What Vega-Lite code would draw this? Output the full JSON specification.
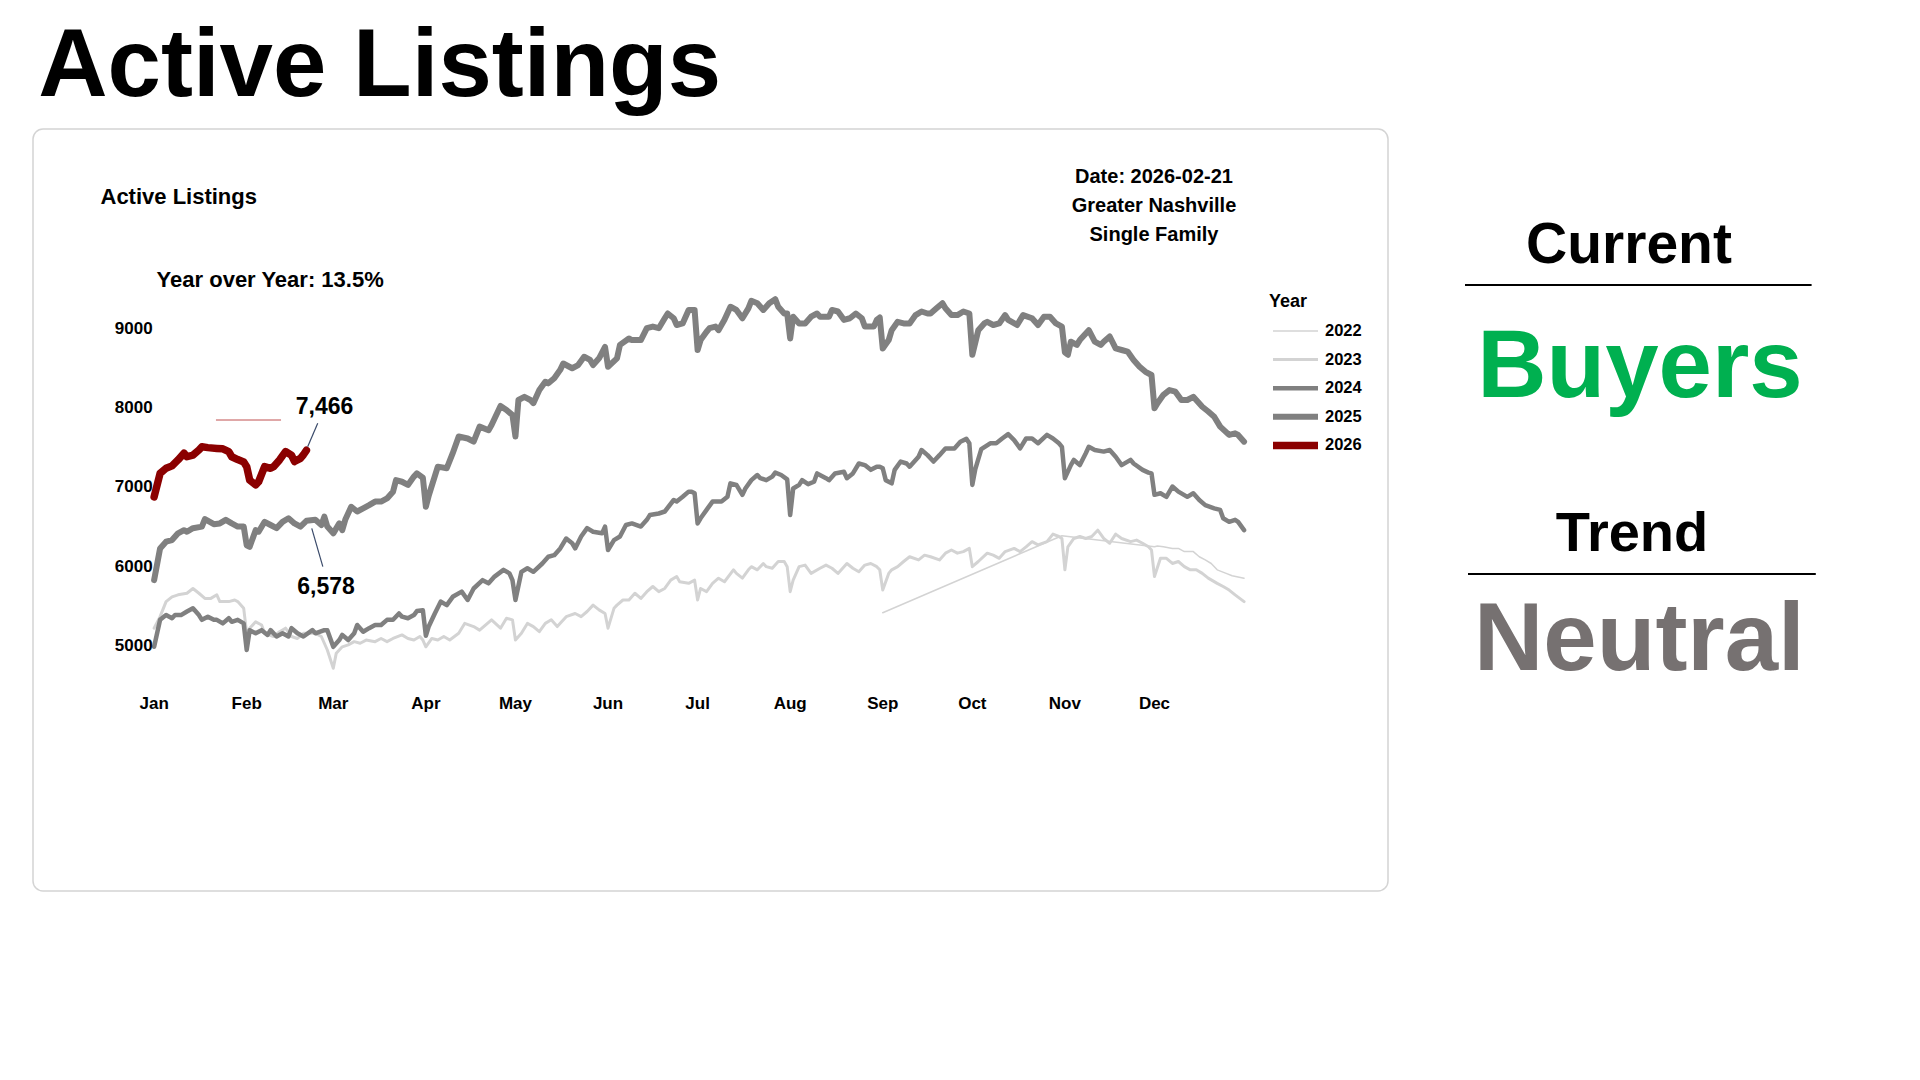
{
  "$schema": "https://vega.github.io/schema/vega-lite/v6.json",
  "background": "white",
  "padding": {"left": 32, "top": 19, "right": 0, "bottom": 0},
  "title": {"text": "Active Listings", "font": "Liberation Sans", "fontSize": 96, "fontWeight": "bold", "color": "#000000", "anchor": "start", "offset": 12, "dx": 6},
  "spacing": 50,
  "datasets": {
    "listings": [
      {"year":"2022","date":"2022-09-01","value":5420},{"year":"2022","date":"2022-10-31","value":6390},{"year":"2022","date":"2022-12-01","value":6250},{"year":"2022","date":"2022-12-02","value":6260},{"year":"2022","date":"2022-12-04","value":6250},{"year":"2022","date":"2022-12-07","value":6230},{"year":"2022","date":"2022-12-09","value":6230},{"year":"2022","date":"2022-12-11","value":6190},{"year":"2022","date":"2022-12-14","value":6190},{"year":"2022","date":"2022-12-16","value":6125},{"year":"2022","date":"2022-12-18","value":6085},{"year":"2022","date":"2022-12-20","value":6040},{"year":"2022","date":"2022-12-22","value":5960},{"year":"2022","date":"2022-12-25","value":5915},{"year":"2022","date":"2022-12-27","value":5885},{"year":"2022","date":"2022-12-31","value":5855},

      {"year":"2023","date":"2023-01-01","value":5225},{"year":"2023","date":"2023-01-03","value":5370},{"year":"2023","date":"2023-01-05","value":5560},{"year":"2023","date":"2023-01-07","value":5620},{"year":"2023","date":"2023-01-09","value":5645},{"year":"2023","date":"2023-01-12","value":5665},{"year":"2023","date":"2023-01-14","value":5725},{"year":"2023","date":"2023-01-16","value":5665},{"year":"2023","date":"2023-01-18","value":5600},{"year":"2023","date":"2023-01-20","value":5600},{"year":"2023","date":"2023-01-22","value":5645},{"year":"2023","date":"2023-01-23","value":5560},{"year":"2023","date":"2023-01-26","value":5560},{"year":"2023","date":"2023-01-28","value":5580},{"year":"2023","date":"2023-01-29","value":5560},{"year":"2023","date":"2023-01-31","value":5475},
      {"year":"2023","date":"2023-02-01","value":5160},{"year":"2023","date":"2023-02-02","value":5225},{"year":"2023","date":"2023-02-04","value":5305},{"year":"2023","date":"2023-02-06","value":5265},{"year":"2023","date":"2023-02-07","value":5160},{"year":"2023","date":"2023-02-10","value":5120},{"year":"2023","date":"2023-02-12","value":5180},{"year":"2023","date":"2023-02-14","value":5225},{"year":"2023","date":"2023-02-16","value":5120},{"year":"2023","date":"2023-02-18","value":5095},{"year":"2023","date":"2023-02-20","value":5160},{"year":"2023","date":"2023-02-22","value":5160},{"year":"2023","date":"2023-02-24","value":5160},{"year":"2023","date":"2023-02-26","value":5120},{"year":"2023","date":"2023-02-28","value":4950},
      {"year":"2023","date":"2023-03-01","value":4720},{"year":"2023","date":"2023-03-02","value":4910},{"year":"2023","date":"2023-03-04","value":4990},{"year":"2023","date":"2023-03-06","value":5015},{"year":"2023","date":"2023-03-08","value":5055},{"year":"2023","date":"2023-03-10","value":5035},{"year":"2023","date":"2023-03-12","value":5075},{"year":"2023","date":"2023-03-15","value":5055},{"year":"2023","date":"2023-03-17","value":5095},{"year":"2023","date":"2023-03-19","value":5055},{"year":"2023","date":"2023-03-21","value":5095},{"year":"2023","date":"2023-03-24","value":5140},{"year":"2023","date":"2023-03-26","value":5095},{"year":"2023","date":"2023-03-28","value":5075},{"year":"2023","date":"2023-03-30","value":5120},{"year":"2023","date":"2023-03-31","value":5075},
      {"year":"2023","date":"2023-04-01","value":4990},{"year":"2023","date":"2023-04-03","value":5095},{"year":"2023","date":"2023-04-05","value":5075},{"year":"2023","date":"2023-04-07","value":5120},{"year":"2023","date":"2023-04-09","value":5075},{"year":"2023","date":"2023-04-12","value":5160},{"year":"2023","date":"2023-04-14","value":5285},{"year":"2023","date":"2023-04-17","value":5245},{"year":"2023","date":"2023-04-19","value":5200},{"year":"2023","date":"2023-04-23","value":5330},{"year":"2023","date":"2023-04-26","value":5225},{"year":"2023","date":"2023-04-28","value":5350},{"year":"2023","date":"2023-04-30","value":5330},
      {"year":"2023","date":"2023-05-01","value":5075},{"year":"2023","date":"2023-05-03","value":5160},{"year":"2023","date":"2023-05-05","value":5285},{"year":"2023","date":"2023-05-07","value":5245},{"year":"2023","date":"2023-05-09","value":5180},{"year":"2023","date":"2023-05-11","value":5285},{"year":"2023","date":"2023-05-13","value":5330},{"year":"2023","date":"2023-05-15","value":5245},{"year":"2023","date":"2023-05-18","value":5370},{"year":"2023","date":"2023-05-21","value":5410},{"year":"2023","date":"2023-05-23","value":5370},{"year":"2023","date":"2023-05-25","value":5435},{"year":"2023","date":"2023-05-27","value":5515},{"year":"2023","date":"2023-05-29","value":5455},{"year":"2023","date":"2023-05-31","value":5410},
      {"year":"2023","date":"2023-06-01","value":5225},{"year":"2023","date":"2023-06-03","value":5475},{"year":"2023","date":"2023-06-04","value":5515},{"year":"2023","date":"2023-06-06","value":5580},{"year":"2023","date":"2023-06-08","value":5580},{"year":"2023","date":"2023-06-10","value":5665},{"year":"2023","date":"2023-06-12","value":5600},{"year":"2023","date":"2023-06-14","value":5685},{"year":"2023","date":"2023-06-16","value":5750},{"year":"2023","date":"2023-06-18","value":5685},{"year":"2023","date":"2023-06-20","value":5725},{"year":"2023","date":"2023-06-22","value":5830},{"year":"2023","date":"2023-06-24","value":5875},{"year":"2023","date":"2023-06-25","value":5810},{"year":"2023","date":"2023-06-28","value":5790},{"year":"2023","date":"2023-06-30","value":5830},
      {"year":"2023","date":"2023-07-01","value":5580},{"year":"2023","date":"2023-07-02","value":5725},{"year":"2023","date":"2023-07-04","value":5685},{"year":"2023","date":"2023-07-06","value":5790},{"year":"2023","date":"2023-07-08","value":5855},{"year":"2023","date":"2023-07-10","value":5810},{"year":"2023","date":"2023-07-13","value":5960},{"year":"2023","date":"2023-07-14","value":5915},{"year":"2023","date":"2023-07-16","value":5855},{"year":"2023","date":"2023-07-18","value":5960},{"year":"2023","date":"2023-07-19","value":6000},{"year":"2023","date":"2023-07-21","value":5960},{"year":"2023","date":"2023-07-23","value":6040},{"year":"2023","date":"2023-07-24","value":6000},{"year":"2023","date":"2023-07-26","value":5980},{"year":"2023","date":"2023-07-28","value":6065},{"year":"2023","date":"2023-07-30","value":6065},{"year":"2023","date":"2023-07-31","value":6000},
      {"year":"2023","date":"2023-08-01","value":5685},{"year":"2023","date":"2023-08-02","value":5830},{"year":"2023","date":"2023-08-04","value":6000},{"year":"2023","date":"2023-08-06","value":6020},{"year":"2023","date":"2023-08-08","value":5915},{"year":"2023","date":"2023-08-11","value":5980},{"year":"2023","date":"2023-08-13","value":6020},{"year":"2023","date":"2023-08-15","value":5980},{"year":"2023","date":"2023-08-17","value":5915},{"year":"2023","date":"2023-08-20","value":6040},{"year":"2023","date":"2023-08-22","value":5980},{"year":"2023","date":"2023-08-24","value":5935},{"year":"2023","date":"2023-08-26","value":6020},{"year":"2023","date":"2023-08-28","value":6040},{"year":"2023","date":"2023-08-30","value":6000},{"year":"2023","date":"2023-08-31","value":5960},
      {"year":"2023","date":"2023-09-01","value":5705},{"year":"2023","date":"2023-09-03","value":5915},{"year":"2023","date":"2023-09-04","value":5960},{"year":"2023","date":"2023-09-06","value":6000},{"year":"2023","date":"2023-09-08","value":6065},{"year":"2023","date":"2023-09-10","value":6125},{"year":"2023","date":"2023-09-13","value":6085},{"year":"2023","date":"2023-09-15","value":6145},{"year":"2023","date":"2023-09-17","value":6125},{"year":"2023","date":"2023-09-20","value":6085},{"year":"2023","date":"2023-09-22","value":6170},{"year":"2023","date":"2023-09-24","value":6210},{"year":"2023","date":"2023-09-26","value":6170},{"year":"2023","date":"2023-09-28","value":6190},{"year":"2023","date":"2023-09-30","value":6230},
      {"year":"2023","date":"2023-10-01","value":6000},{"year":"2023","date":"2023-10-03","value":6065},{"year":"2023","date":"2023-10-06","value":6170},{"year":"2023","date":"2023-10-08","value":6145},{"year":"2023","date":"2023-10-10","value":6105},{"year":"2023","date":"2023-10-12","value":6190},{"year":"2023","date":"2023-10-15","value":6230},{"year":"2023","date":"2023-10-17","value":6190},{"year":"2023","date":"2023-10-19","value":6250},{"year":"2023","date":"2023-10-21","value":6315},{"year":"2023","date":"2023-10-23","value":6275},{"year":"2023","date":"2023-10-26","value":6315},{"year":"2023","date":"2023-10-28","value":6410},{"year":"2023","date":"2023-10-30","value":6380},{"year":"2023","date":"2023-10-31","value":6355},
      {"year":"2023","date":"2023-11-01","value":5960},{"year":"2023","date":"2023-11-02","value":6250},{"year":"2023","date":"2023-11-04","value":6355},{"year":"2023","date":"2023-11-06","value":6380},{"year":"2023","date":"2023-11-08","value":6355},{"year":"2023","date":"2023-11-10","value":6380},{"year":"2023","date":"2023-11-12","value":6460},{"year":"2023","date":"2023-11-14","value":6355},{"year":"2023","date":"2023-11-16","value":6295},{"year":"2023","date":"2023-11-18","value":6410},{"year":"2023","date":"2023-11-20","value":6355},{"year":"2023","date":"2023-11-23","value":6315},{"year":"2023","date":"2023-11-25","value":6335},{"year":"2023","date":"2023-11-27","value":6295},{"year":"2023","date":"2023-11-29","value":6250},{"year":"2023","date":"2023-11-30","value":6210},
      {"year":"2023","date":"2023-12-01","value":5875},{"year":"2023","date":"2023-12-03","value":6105},{"year":"2023","date":"2023-12-05","value":6105},{"year":"2023","date":"2023-12-07","value":6040},{"year":"2023","date":"2023-12-09","value":6065},{"year":"2023","date":"2023-12-11","value":6000},{"year":"2023","date":"2023-12-13","value":5960},{"year":"2023","date":"2023-12-15","value":5960},{"year":"2023","date":"2023-12-17","value":5915},{"year":"2023","date":"2023-12-19","value":5855},{"year":"2023","date":"2023-12-22","value":5790},{"year":"2023","date":"2023-12-24","value":5750},{"year":"2023","date":"2023-12-26","value":5705},{"year":"2023","date":"2023-12-28","value":5645},{"year":"2023","date":"2023-12-31","value":5560},

      {"year":"2024","date":"2024-01-01","value":4990},{"year":"2024","date":"2024-01-03","value":5330},{"year":"2024","date":"2024-01-05","value":5390},{"year":"2024","date":"2024-01-07","value":5350},{"year":"2024","date":"2024-01-08","value":5390},{"year":"2024","date":"2024-01-10","value":5390},{"year":"2024","date":"2024-01-12","value":5435},{"year":"2024","date":"2024-01-14","value":5475},{"year":"2024","date":"2024-01-16","value":5390},{"year":"2024","date":"2024-01-17","value":5330},{"year":"2024","date":"2024-01-19","value":5370},{"year":"2024","date":"2024-01-21","value":5330},{"year":"2024","date":"2024-01-22","value":5330},{"year":"2024","date":"2024-01-24","value":5285},{"year":"2024","date":"2024-01-26","value":5350},{"year":"2024","date":"2024-01-27","value":5305},{"year":"2024","date":"2024-01-29","value":5330},{"year":"2024","date":"2024-01-31","value":5285},
      {"year":"2024","date":"2024-02-01","value":4950},{"year":"2024","date":"2024-02-02","value":5200},{"year":"2024","date":"2024-02-04","value":5160},{"year":"2024","date":"2024-02-06","value":5200},{"year":"2024","date":"2024-02-08","value":5140},{"year":"2024","date":"2024-02-09","value":5200},{"year":"2024","date":"2024-02-11","value":5120},{"year":"2024","date":"2024-02-13","value":5160},{"year":"2024","date":"2024-02-15","value":5120},{"year":"2024","date":"2024-02-16","value":5225},{"year":"2024","date":"2024-02-18","value":5160},{"year":"2024","date":"2024-02-20","value":5120},{"year":"2024","date":"2024-02-23","value":5200},{"year":"2024","date":"2024-02-24","value":5160},{"year":"2024","date":"2024-02-27","value":5200},{"year":"2024","date":"2024-02-28","value":5200},
      {"year":"2024","date":"2024-03-01","value":4990},{"year":"2024","date":"2024-03-03","value":5075},{"year":"2024","date":"2024-03-04","value":5140},{"year":"2024","date":"2024-03-06","value":5075},{"year":"2024","date":"2024-03-08","value":5160},{"year":"2024","date":"2024-03-09","value":5265},{"year":"2024","date":"2024-03-11","value":5180},{"year":"2024","date":"2024-03-13","value":5225},{"year":"2024","date":"2024-03-15","value":5265},{"year":"2024","date":"2024-03-17","value":5265},{"year":"2024","date":"2024-03-19","value":5330},{"year":"2024","date":"2024-03-21","value":5330},{"year":"2024","date":"2024-03-23","value":5410},{"year":"2024","date":"2024-03-24","value":5370},{"year":"2024","date":"2024-03-26","value":5350},{"year":"2024","date":"2024-03-28","value":5390},{"year":"2024","date":"2024-03-29","value":5440},{"year":"2024","date":"2024-03-31","value":5450},
      {"year":"2024","date":"2024-04-01","value":5130},{"year":"2024","date":"2024-04-02","value":5250},{"year":"2024","date":"2024-04-04","value":5410},{"year":"2024","date":"2024-04-06","value":5560},{"year":"2024","date":"2024-04-08","value":5515},{"year":"2024","date":"2024-04-10","value":5620},{"year":"2024","date":"2024-04-13","value":5685},{"year":"2024","date":"2024-04-15","value":5580},{"year":"2024","date":"2024-04-17","value":5725},{"year":"2024","date":"2024-04-20","value":5830},{"year":"2024","date":"2024-04-22","value":5790},{"year":"2024","date":"2024-04-24","value":5875},{"year":"2024","date":"2024-04-27","value":5960},{"year":"2024","date":"2024-04-29","value":5915},{"year":"2024","date":"2024-04-30","value":5830},
      {"year":"2024","date":"2024-05-01","value":5580},{"year":"2024","date":"2024-05-03","value":5935},{"year":"2024","date":"2024-05-05","value":5980},{"year":"2024","date":"2024-05-07","value":5935},{"year":"2024","date":"2024-05-10","value":6040},{"year":"2024","date":"2024-05-12","value":6125},{"year":"2024","date":"2024-05-14","value":6145},{"year":"2024","date":"2024-05-16","value":6230},{"year":"2024","date":"2024-05-18","value":6355},{"year":"2024","date":"2024-05-20","value":6295},{"year":"2024","date":"2024-05-21","value":6230},{"year":"2024","date":"2024-05-23","value":6380},{"year":"2024","date":"2024-05-25","value":6485},{"year":"2024","date":"2024-05-27","value":6440},{"year":"2024","date":"2024-05-30","value":6420},{"year":"2024","date":"2024-05-31","value":6505},
      {"year":"2024","date":"2024-06-01","value":6210},{"year":"2024","date":"2024-06-03","value":6335},{"year":"2024","date":"2024-06-05","value":6380},{"year":"2024","date":"2024-06-07","value":6525},{"year":"2024","date":"2024-06-09","value":6545},{"year":"2024","date":"2024-06-12","value":6505},{"year":"2024","date":"2024-06-14","value":6590},{"year":"2024","date":"2024-06-15","value":6650},{"year":"2024","date":"2024-06-18","value":6670},{"year":"2024","date":"2024-06-20","value":6695},{"year":"2024","date":"2024-06-23","value":6840},{"year":"2024","date":"2024-06-24","value":6820},{"year":"2024","date":"2024-06-26","value":6880},{"year":"2024","date":"2024-06-28","value":6945},{"year":"2024","date":"2024-06-29","value":6945},{"year":"2024","date":"2024-06-30","value":6925},
      {"year":"2024","date":"2024-07-01","value":6545},{"year":"2024","date":"2024-07-02","value":6610},{"year":"2024","date":"2024-07-04","value":6715},{"year":"2024","date":"2024-07-06","value":6820},{"year":"2024","date":"2024-07-09","value":6820},{"year":"2024","date":"2024-07-11","value":6880},{"year":"2024","date":"2024-07-12","value":7050},{"year":"2024","date":"2024-07-14","value":7030},{"year":"2024","date":"2024-07-16","value":6905},{"year":"2024","date":"2024-07-17","value":6985},{"year":"2024","date":"2024-07-19","value":7090},{"year":"2024","date":"2024-07-21","value":7155},{"year":"2024","date":"2024-07-22","value":7115},{"year":"2024","date":"2024-07-24","value":7090},{"year":"2024","date":"2024-07-26","value":7135},{"year":"2024","date":"2024-07-27","value":7185},{"year":"2024","date":"2024-07-29","value":7155},{"year":"2024","date":"2024-07-31","value":7100},
      {"year":"2024","date":"2024-08-01","value":6650},{"year":"2024","date":"2024-08-02","value":6985},{"year":"2024","date":"2024-08-04","value":7030},{"year":"2024","date":"2024-08-05","value":7090},{"year":"2024","date":"2024-08-07","value":7040},{"year":"2024","date":"2024-08-09","value":7070},{"year":"2024","date":"2024-08-10","value":7175},{"year":"2024","date":"2024-08-13","value":7115},{"year":"2024","date":"2024-08-14","value":7090},{"year":"2024","date":"2024-08-16","value":7175},{"year":"2024","date":"2024-08-19","value":7195},{"year":"2024","date":"2024-08-20","value":7115},{"year":"2024","date":"2024-08-22","value":7175},{"year":"2024","date":"2024-08-24","value":7300},{"year":"2024","date":"2024-08-26","value":7280},{"year":"2024","date":"2024-08-28","value":7220},{"year":"2024","date":"2024-08-30","value":7260},{"year":"2024","date":"2024-08-31","value":7260},
      {"year":"2024","date":"2024-09-01","value":7240},{"year":"2024","date":"2024-09-02","value":7090},{"year":"2024","date":"2024-09-04","value":7050},{"year":"2024","date":"2024-09-05","value":7220},{"year":"2024","date":"2024-09-07","value":7325},{"year":"2024","date":"2024-09-09","value":7300},{"year":"2024","date":"2024-09-10","value":7260},{"year":"2024","date":"2024-09-13","value":7385},{"year":"2024","date":"2024-09-14","value":7470},{"year":"2024","date":"2024-09-16","value":7405},{"year":"2024","date":"2024-09-18","value":7325},{"year":"2024","date":"2024-09-20","value":7405},{"year":"2024","date":"2024-09-22","value":7490},{"year":"2024","date":"2024-09-24","value":7490},{"year":"2024","date":"2024-09-25","value":7490},{"year":"2024","date":"2024-09-27","value":7575},{"year":"2024","date":"2024-09-29","value":7610},{"year":"2024","date":"2024-09-30","value":7555},
      {"year":"2024","date":"2024-10-01","value":7030},{"year":"2024","date":"2024-10-02","value":7230},{"year":"2024","date":"2024-10-04","value":7480},{"year":"2024","date":"2024-10-07","value":7555},{"year":"2024","date":"2024-10-09","value":7555},{"year":"2024","date":"2024-10-11","value":7615},{"year":"2024","date":"2024-10-13","value":7670},{"year":"2024","date":"2024-10-15","value":7595},{"year":"2024","date":"2024-10-17","value":7490},{"year":"2024","date":"2024-10-19","value":7615},{"year":"2024","date":"2024-10-21","value":7615},{"year":"2024","date":"2024-10-23","value":7555},{"year":"2024","date":"2024-10-26","value":7660},{"year":"2024","date":"2024-10-28","value":7615},{"year":"2024","date":"2024-10-30","value":7555},{"year":"2024","date":"2024-10-31","value":7510},
      {"year":"2024","date":"2024-11-01","value":7115},{"year":"2024","date":"2024-11-03","value":7280},{"year":"2024","date":"2024-11-04","value":7345},{"year":"2024","date":"2024-11-06","value":7280},{"year":"2024","date":"2024-11-08","value":7430},{"year":"2024","date":"2024-11-09","value":7510},{"year":"2024","date":"2024-11-11","value":7470},{"year":"2024","date":"2024-11-14","value":7450},{"year":"2024","date":"2024-11-16","value":7470},{"year":"2024","date":"2024-11-18","value":7385},{"year":"2024","date":"2024-11-20","value":7280},{"year":"2024","date":"2024-11-23","value":7345},{"year":"2024","date":"2024-11-24","value":7300},{"year":"2024","date":"2024-11-27","value":7220},{"year":"2024","date":"2024-11-29","value":7185},{"year":"2024","date":"2024-11-30","value":7175},
      {"year":"2024","date":"2024-12-01","value":6905},{"year":"2024","date":"2024-12-03","value":6925},{"year":"2024","date":"2024-12-05","value":6880},{"year":"2024","date":"2024-12-07","value":7010},{"year":"2024","date":"2024-12-09","value":6945},{"year":"2024","date":"2024-12-12","value":6880},{"year":"2024","date":"2024-12-14","value":6925},{"year":"2024","date":"2024-12-16","value":6840},{"year":"2024","date":"2024-12-18","value":6775},{"year":"2024","date":"2024-12-21","value":6735},{"year":"2024","date":"2024-12-23","value":6715},{"year":"2024","date":"2024-12-24","value":6610},{"year":"2024","date":"2024-12-26","value":6565},{"year":"2024","date":"2024-12-28","value":6590},{"year":"2024","date":"2024-12-29","value":6565},{"year":"2024","date":"2024-12-31","value":6460},

      {"year":"2025","date":"2025-01-01","value":5830},{"year":"2025","date":"2025-01-03","value":6230},{"year":"2025","date":"2025-01-05","value":6315},{"year":"2025","date":"2025-01-07","value":6335},{"year":"2025","date":"2025-01-09","value":6420},{"year":"2025","date":"2025-01-11","value":6460},{"year":"2025","date":"2025-01-12","value":6440},{"year":"2025","date":"2025-01-14","value":6485},{"year":"2025","date":"2025-01-17","value":6505},{"year":"2025","date":"2025-01-18","value":6600},{"year":"2025","date":"2025-01-21","value":6535},{"year":"2025","date":"2025-01-23","value":6545},{"year":"2025","date":"2025-01-25","value":6590},{"year":"2025","date":"2025-01-27","value":6545},{"year":"2025","date":"2025-01-29","value":6505},{"year":"2025","date":"2025-01-31","value":6505},
      {"year":"2025","date":"2025-02-01","value":6270},{"year":"2025","date":"2025-02-02","value":6250},{"year":"2025","date":"2025-02-04","value":6460},{"year":"2025","date":"2025-02-05","value":6440},{"year":"2025","date":"2025-02-07","value":6565},{"year":"2025","date":"2025-02-09","value":6525},{"year":"2025","date":"2025-02-11","value":6485},{"year":"2025","date":"2025-02-13","value":6565},{"year":"2025","date":"2025-02-15","value":6610},{"year":"2025","date":"2025-02-17","value":6545},{"year":"2025","date":"2025-02-19","value":6505},{"year":"2025","date":"2025-02-21","value":6578},{"year":"2025","date":"2025-02-24","value":6590},{"year":"2025","date":"2025-02-26","value":6525},{"year":"2025","date":"2025-02-27","value":6630},{"year":"2025","date":"2025-02-28","value":6505},
      {"year":"2025","date":"2025-03-01","value":6420},{"year":"2025","date":"2025-03-03","value":6545},{"year":"2025","date":"2025-03-04","value":6460},{"year":"2025","date":"2025-03-05","value":6590},{"year":"2025","date":"2025-03-07","value":6755},{"year":"2025","date":"2025-03-09","value":6695},{"year":"2025","date":"2025-03-11","value":6735},{"year":"2025","date":"2025-03-13","value":6775},{"year":"2025","date":"2025-03-15","value":6820},{"year":"2025","date":"2025-03-17","value":6820},{"year":"2025","date":"2025-03-19","value":6860},{"year":"2025","date":"2025-03-21","value":6945},{"year":"2025","date":"2025-03-22","value":7090},{"year":"2025","date":"2025-03-24","value":7070},{"year":"2025","date":"2025-03-26","value":7030},{"year":"2025","date":"2025-03-28","value":7135},{"year":"2025","date":"2025-03-29","value":7175},{"year":"2025","date":"2025-03-31","value":7120},
      {"year":"2025","date":"2025-04-01","value":6756},{"year":"2025","date":"2025-04-02","value":6900},{"year":"2025","date":"2025-04-05","value":7260},{"year":"2025","date":"2025-04-08","value":7240},{"year":"2025","date":"2025-04-10","value":7430},{"year":"2025","date":"2025-04-12","value":7640},{"year":"2025","date":"2025-04-15","value":7615},{"year":"2025","date":"2025-04-17","value":7575},{"year":"2025","date":"2025-04-19","value":7765},{"year":"2025","date":"2025-04-22","value":7720},{"year":"2025","date":"2025-04-23","value":7785},{"year":"2025","date":"2025-04-26","value":8025},{"year":"2025","date":"2025-04-28","value":7975},{"year":"2025","date":"2025-04-30","value":7910},
      {"year":"2025","date":"2025-05-01","value":7640},{"year":"2025","date":"2025-05-02","value":8100},{"year":"2025","date":"2025-05-04","value":8140},{"year":"2025","date":"2025-05-06","value":8100},{"year":"2025","date":"2025-05-07","value":8060},{"year":"2025","date":"2025-05-09","value":8225},{"year":"2025","date":"2025-05-11","value":8330},{"year":"2025","date":"2025-05-12","value":8310},{"year":"2025","date":"2025-05-14","value":8375},{"year":"2025","date":"2025-05-16","value":8480},{"year":"2025","date":"2025-05-17","value":8560},{"year":"2025","date":"2025-05-20","value":8500},{"year":"2025","date":"2025-05-22","value":8540},{"year":"2025","date":"2025-05-24","value":8645},{"year":"2025","date":"2025-05-26","value":8605},{"year":"2025","date":"2025-05-27","value":8540},{"year":"2025","date":"2025-05-29","value":8625},{"year":"2025","date":"2025-05-31","value":8770},
      {"year":"2025","date":"2025-06-01","value":8520},{"year":"2025","date":"2025-06-04","value":8625},{"year":"2025","date":"2025-06-05","value":8795},{"year":"2025","date":"2025-06-08","value":8875},{"year":"2025","date":"2025-06-09","value":8855},{"year":"2025","date":"2025-06-12","value":8855},{"year":"2025","date":"2025-06-14","value":9005},{"year":"2025","date":"2025-06-16","value":9025},{"year":"2025","date":"2025-06-18","value":9005},{"year":"2025","date":"2025-06-20","value":9130},{"year":"2025","date":"2025-06-21","value":9190},{"year":"2025","date":"2025-06-23","value":9130},{"year":"2025","date":"2025-06-24","value":9045},{"year":"2025","date":"2025-06-26","value":9065},{"year":"2025","date":"2025-06-28","value":9235},{"year":"2025","date":"2025-06-30","value":9235},
      {"year":"2025","date":"2025-07-01","value":8730},{"year":"2025","date":"2025-07-02","value":8855},{"year":"2025","date":"2025-07-04","value":8960},{"year":"2025","date":"2025-07-05","value":9005},{"year":"2025","date":"2025-07-07","value":9025},{"year":"2025","date":"2025-07-08","value":8980},{"year":"2025","date":"2025-07-10","value":9110},{"year":"2025","date":"2025-07-12","value":9275},{"year":"2025","date":"2025-07-14","value":9235},{"year":"2025","date":"2025-07-16","value":9130},{"year":"2025","date":"2025-07-18","value":9255},{"year":"2025","date":"2025-07-19","value":9350},{"year":"2025","date":"2025-07-21","value":9320},{"year":"2025","date":"2025-07-23","value":9235},{"year":"2025","date":"2025-07-25","value":9320},{"year":"2025","date":"2025-07-27","value":9370},{"year":"2025","date":"2025-07-28","value":9275},{"year":"2025","date":"2025-07-30","value":9190},{"year":"2025","date":"2025-07-31","value":9190},
      {"year":"2025","date":"2025-08-01","value":8875},{"year":"2025","date":"2025-08-02","value":9150},{"year":"2025","date":"2025-08-04","value":9065},{"year":"2025","date":"2025-08-06","value":9065},{"year":"2025","date":"2025-08-08","value":9150},{"year":"2025","date":"2025-08-10","value":9190},{"year":"2025","date":"2025-08-11","value":9150},{"year":"2025","date":"2025-08-14","value":9150},{"year":"2025","date":"2025-08-15","value":9235},{"year":"2025","date":"2025-08-17","value":9215},{"year":"2025","date":"2025-08-19","value":9110},{"year":"2025","date":"2025-08-21","value":9130},{"year":"2025","date":"2025-08-23","value":9190},{"year":"2025","date":"2025-08-25","value":9130},{"year":"2025","date":"2025-08-26","value":9025},{"year":"2025","date":"2025-08-29","value":9025},{"year":"2025","date":"2025-08-30","value":9110},{"year":"2025","date":"2025-08-31","value":9140},
      {"year":"2025","date":"2025-09-01","value":8750},{"year":"2025","date":"2025-09-03","value":8855},{"year":"2025","date":"2025-09-04","value":8980},{"year":"2025","date":"2025-09-06","value":9085},{"year":"2025","date":"2025-09-08","value":9065},{"year":"2025","date":"2025-09-10","value":9065},{"year":"2025","date":"2025-09-12","value":9170},{"year":"2025","date":"2025-09-14","value":9215},{"year":"2025","date":"2025-09-16","value":9190},{"year":"2025","date":"2025-09-17","value":9190},{"year":"2025","date":"2025-09-19","value":9255},{"year":"2025","date":"2025-09-21","value":9320},{"year":"2025","date":"2025-09-22","value":9255},{"year":"2025","date":"2025-09-24","value":9170},{"year":"2025","date":"2025-09-26","value":9170},{"year":"2025","date":"2025-09-28","value":9215},{"year":"2025","date":"2025-09-30","value":9190},
      {"year":"2025","date":"2025-10-01","value":8670},{"year":"2025","date":"2025-10-03","value":8980},{"year":"2025","date":"2025-10-05","value":9065},{"year":"2025","date":"2025-10-06","value":9085},{"year":"2025","date":"2025-10-08","value":9045},{"year":"2025","date":"2025-10-10","value":9065},{"year":"2025","date":"2025-10-12","value":9170},{"year":"2025","date":"2025-10-13","value":9110},{"year":"2025","date":"2025-10-16","value":9045},{"year":"2025","date":"2025-10-18","value":9170},{"year":"2025","date":"2025-10-21","value":9130},{"year":"2025","date":"2025-10-23","value":9045},{"year":"2025","date":"2025-10-25","value":9150},{"year":"2025","date":"2025-10-27","value":9150},{"year":"2025","date":"2025-10-29","value":9065},{"year":"2025","date":"2025-10-31","value":9025},
      {"year":"2025","date":"2025-11-01","value":8700},{"year":"2025","date":"2025-11-02","value":8670},{"year":"2025","date":"2025-11-03","value":8835},{"year":"2025","date":"2025-11-05","value":8795},{"year":"2025","date":"2025-11-06","value":8855},{"year":"2025","date":"2025-11-09","value":8980},{"year":"2025","date":"2025-11-11","value":8835},{"year":"2025","date":"2025-11-13","value":8795},{"year":"2025","date":"2025-11-14","value":8835},{"year":"2025","date":"2025-11-16","value":8900},{"year":"2025","date":"2025-11-18","value":8750},{"year":"2025","date":"2025-11-20","value":8730},{"year":"2025","date":"2025-11-22","value":8710},{"year":"2025","date":"2025-11-24","value":8605},{"year":"2025","date":"2025-11-26","value":8520},{"year":"2025","date":"2025-11-28","value":8455},{"year":"2025","date":"2025-11-30","value":8415},
      {"year":"2025","date":"2025-12-01","value":7995},{"year":"2025","date":"2025-12-02","value":8060},{"year":"2025","date":"2025-12-04","value":8165},{"year":"2025","date":"2025-12-06","value":8225},{"year":"2025","date":"2025-12-08","value":8205},{"year":"2025","date":"2025-12-10","value":8100},{"year":"2025","date":"2025-12-12","value":8100},{"year":"2025","date":"2025-12-14","value":8140},{"year":"2025","date":"2025-12-17","value":8015},{"year":"2025","date":"2025-12-19","value":7955},{"year":"2025","date":"2025-12-21","value":7890},{"year":"2025","date":"2025-12-23","value":7765},{"year":"2025","date":"2025-12-26","value":7660},{"year":"2025","date":"2025-12-28","value":7680},{"year":"2025","date":"2025-12-29","value":7660},{"year":"2025","date":"2025-12-31","value":7575},

      {"year":"2026","date":"2026-01-01","value":6880},{"year":"2026","date":"2026-01-03","value":7175},{"year":"2026","date":"2026-01-05","value":7240},{"year":"2026","date":"2026-01-07","value":7270},{"year":"2026","date":"2026-01-09","value":7345},{"year":"2026","date":"2026-01-11","value":7430},{"year":"2026","date":"2026-01-12","value":7385},{"year":"2026","date":"2026-01-14","value":7405},{"year":"2026","date":"2026-01-16","value":7470},{"year":"2026","date":"2026-01-17","value":7510},{"year":"2026","date":"2026-01-19","value":7500},{"year":"2026","date":"2026-01-22","value":7490},{"year":"2026","date":"2026-01-24","value":7485},{"year":"2026","date":"2026-01-26","value":7450},{"year":"2026","date":"2026-01-27","value":7385},{"year":"2026","date":"2026-01-29","value":7350},{"year":"2026","date":"2026-01-31","value":7320},{"year":"2026","date":"2026-02-01","value":7260},{"year":"2026","date":"2026-02-02","value":7090},{"year":"2026","date":"2026-02-04","value":7030},{"year":"2026","date":"2026-02-05","value":7070},{"year":"2026","date":"2026-02-07","value":7260},{"year":"2026","date":"2026-02-09","value":7240},{"year":"2026","date":"2026-02-10","value":7260},{"year":"2026","date":"2026-02-12","value":7345},{"year":"2026","date":"2026-02-14","value":7450},{"year":"2026","date":"2026-02-16","value":7405},{"year":"2026","date":"2026-02-17","value":7325},{"year":"2026","date":"2026-02-19","value":7365},{"year":"2026","date":"2026-02-20","value":7410},{"year":"2026","date":"2026-02-21","value":7466}
    ]
  },
  "hconcat": [
    {
      "width": 1355,
      "height": 762,
      "view": {"fill": "white", "stroke": "#d4d4d4", "strokeWidth": 1.5, "cornerRadius": 10},
      "layer": [
        {
          "data": {"name": "listings"},
          "mark": {"type": "line", "strokeCap": "round", "strokeJoin": "round"},
          "encoding": {
            "x": {
              "field": "date", "timeUnit": "utcmonthdate", "type": "temporal",
              "scale": {"type": "utc", "nice": false, "domain": [
                {"year": 2011, "month": 11, "date": 21, "hours": 10, "minutes": 33, "utc": true},
                {"year": 2013, "month": 2, "date": 17, "hours": 4, "minutes": 48, "utc": true}
              ]},
              "axis": null
            },
            "y": {
              "field": "value", "type": "quantitative",
              "scale": {"domain": [1913, 11515], "nice": false, "zero": false},
              "axis": null
            },
            "color": {
              "field": "year", "type": "ordinal",
              "scale": {"domain": ["2022", "2023", "2024", "2025", "2026"], "range": ["#d3d3d3", "#d3d3d3", "#808080", "#808080", "#8b0000"]},
              "legend": {"title": "Year", "orient": "none", "legendX": 1236, "legendY": 164, "symbolType": "stroke", "symbolSize": 2025,
                         "clipHeight": 20, "rowPadding": 8.6, "labelOffset": 3, "titlePadding": 10, "padding": 0,
                         "titleFontSize": 18, "labelFontSize": 16.5}
            },
            "strokeWidth": {
              "field": "year", "type": "ordinal",
              "scale": {"domain": ["2022", "2023", "2024", "2025", "2026"], "range": [1.5, 7.5], "padding": 0},
              "legend": {"title": "Year", "orient": "none", "legendX": 1236, "legendY": 164, "symbolType": "stroke", "symbolSize": 2025,
                         "clipHeight": 20, "rowPadding": 8.6, "labelOffset": 3, "titlePadding": 10, "padding": 0,
                         "titleFontSize": 18, "labelFontSize": 16.5}
            }
          }
        },
        {
          "data": {"values": [{"tick": 5000}, {"tick": 6000}, {"tick": 7000}, {"tick": 8000}, {"tick": 9000}]},
          "mark": {"type": "text", "font": "Liberation Sans", "fontSize": 17, "fontWeight": "bold", "color": "#000000", "align": "right", "baseline": "middle"},
          "encoding": {
            "x": {"datum": {"year": 2011, "month": 12, "date": 31, "hours": 12, "utc": true}, "type": "temporal", "axis": null},
            "y": {"field": "tick", "type": "quantitative", "axis": null},
            "text": {"field": "tick", "type": "quantitative", "format": "d"}
          }
        },
        {
          "data": {"values": [
            {"month_start": "2012-01-01", "label": "Jan"}, {"month_start": "2012-02-01", "label": "Feb"}, {"month_start": "2012-03-01", "label": "Mar"},
            {"month_start": "2012-04-01", "label": "Apr"}, {"month_start": "2012-05-01", "label": "May"}, {"month_start": "2012-06-01", "label": "Jun"},
            {"month_start": "2012-07-01", "label": "Jul"}, {"month_start": "2012-08-01", "label": "Aug"}, {"month_start": "2012-09-01", "label": "Sep"},
            {"month_start": "2012-10-01", "label": "Oct"}, {"month_start": "2012-11-01", "label": "Nov"}, {"month_start": "2012-12-01", "label": "Dec"}
          ]},
          "mark": {"type": "text", "font": "Liberation Sans", "fontSize": 17, "fontWeight": "bold", "color": "#000000", "align": "center", "baseline": "middle"},
          "encoding": {
            "x": {"field": "month_start", "type": "temporal", "timeUnit": "utcmonthdate", "axis": null},
            "y": {"datum": 4265, "type": "quantitative", "axis": null},
            "text": {"field": "label", "type": "nominal"}
          }
        },
        {
          "data": {"values": [{}]},
          "mark": {"type": "rule", "color": "#c05050", "strokeWidth": 1},
          "encoding": {
            "x": {"datum": {"year": 2012, "month": 1, "date": 21, "hours": 17, "utc": true}, "type": "temporal", "axis": null},
            "x2": {"datum": {"year": 2012, "month": 2, "date": 12, "hours": 12, "utc": true}},
            "y": {"datum": 7848, "type": "quantitative", "axis": null}
          }
        },
        {
          "data": {"values": [{}]},
          "mark": {"type": "rule", "color": "#3a4a6a", "strokeWidth": 1.2},
          "encoding": {
            "x": {"datum": {"year": 2012, "month": 2, "date": 21, "hours": 10, "utc": true}, "type": "temporal", "axis": null},
            "x2": {"datum": {"year": 2012, "month": 2, "date": 24, "hours": 19, "utc": true}},
            "y": {"datum": 7512, "type": "quantitative", "axis": null},
            "y2": {"datum": 7806}
          }
        },
        {
          "data": {"values": [{}]},
          "mark": {"type": "rule", "color": "#3a4a6a", "strokeWidth": 1.2},
          "encoding": {
            "x": {"datum": {"year": 2012, "month": 2, "date": 22, "hours": 19, "utc": true}, "type": "temporal", "axis": null},
            "x2": {"datum": {"year": 2012, "month": 2, "date": 26, "hours": 12, "utc": true}},
            "y": {"datum": 6483, "type": "quantitative", "axis": null},
            "y2": {"datum": 6000}
          }
        },
        {
          "data": {"values": [{}]},
          "mark": {"type": "text", "text": "7,466", "font": "Liberation Sans", "fontSize": 23, "fontWeight": "bold", "color": "#000000", "align": "center", "baseline": "middle"},
          "encoding": {
            "x": {"datum": {"year": 2012, "month": 2, "date": 27, "hours": 2, "utc": true}, "type": "temporal", "axis": null},
            "y": {"datum": 8010, "type": "quantitative", "axis": null}
          }
        },
        {
          "data": {"values": [{}]},
          "mark": {"type": "text", "text": "6,578", "font": "Liberation Sans", "fontSize": 23, "fontWeight": "bold", "color": "#000000", "align": "center", "baseline": "middle"},
          "encoding": {
            "x": {"datum": {"year": 2012, "month": 2, "date": 27, "hours": 14, "utc": true}, "type": "temporal", "axis": null},
            "y": {"datum": 5750, "type": "quantitative", "axis": null}
          }
        },
        {
          "data": {"values": [{}]},
          "mark": {"type": "text", "text": "Active Listings", "fontSize": 22, "fontWeight": "bold", "color": "#000000", "align": "left", "baseline": "alphabetic"},
          "encoding": {
            "x": {"datum": {"year": 2011, "month": 12, "date": 14, "hours": 1, "utc": true}, "type": "temporal", "axis": null},
            "y": {"datum": 10568, "type": "quantitative", "axis": null}
          }
        },
        {
          "data": {"values": [{}]},
          "mark": {"type": "text", "text": "Year over Year: 13.5%", "fontSize": 22, "fontWeight": "bold", "color": "#000000", "align": "left", "baseline": "alphabetic"},
          "encoding": {
            "x": {"datum": {"year": 2012, "month": 1, "date": 1, "hours": 20, "utc": true}, "type": "temporal", "axis": null},
            "y": {"datum": 9526, "type": "quantitative", "axis": null}
          }
        },
        {
          "data": {"values": [{}]},
          "mark": {"type": "text", "text": ["Date: 2026-02-21", "Greater Nashville", "Single Family"], "lineHeight": 29, "fontSize": 20, "fontWeight": "bold", "color": "#000000", "align": "center", "baseline": "alphabetic"},
          "encoding": {
            "x": {"datum": {"year": 2012, "month": 11, "date": 30, "hours": 20, "utc": true}, "type": "temporal", "axis": null},
            "y": {"datum": 10839, "type": "quantitative", "axis": null}
          }
        }
      ]
    },
    {
      "width": 400,
      "height": 762,
      "view": {"stroke": null},
      "data": {"values": [{}]},
      "layer": [
        {
          "mark": {"type": "text", "text": "Current", "font": "Liberation Sans", "fontSize": 57, "fontWeight": "bold", "color": "#000000", "align": "center", "baseline": "alphabetic"},
          "encoding": {
            "x": {"datum": 0.475, "type": "quantitative", "scale": {"domain": [0, 1], "nice": false}, "axis": null},
            "y": {"datum": 134, "type": "quantitative", "scale": {"domain": [0, 762], "reverse": true, "nice": false}, "axis": null}
          }
        },
        {
          "mark": {"type": "rule", "color": "#000000", "strokeWidth": 2},
          "encoding": {
            "x": {"datum": 0.065, "type": "quantitative", "axis": null},
            "x2": {"datum": 0.9315},
            "y": {"datum": 156, "type": "quantitative", "axis": null}
          }
        },
        {
          "mark": {"type": "text", "text": "Buyers", "font": "Liberation Sans", "fontSize": 96, "fontWeight": "bold", "color": "#00B050", "align": "center", "baseline": "alphabetic"},
          "encoding": {
            "x": {"datum": 0.5025, "type": "quantitative", "axis": null},
            "y": {"datum": 268, "type": "quantitative", "axis": null}
          }
        },
        {
          "mark": {"type": "text", "text": "Trend", "font": "Liberation Sans", "fontSize": 56, "fontWeight": "bold", "color": "#000000", "align": "center", "baseline": "alphabetic"},
          "encoding": {
            "x": {"datum": 0.4825, "type": "quantitative", "axis": null},
            "y": {"datum": 422, "type": "quantitative", "axis": null}
          }
        },
        {
          "mark": {"type": "rule", "color": "#000000", "strokeWidth": 2},
          "encoding": {
            "x": {"datum": 0.0725, "type": "quantitative", "axis": null},
            "x2": {"datum": 0.942},
            "y": {"datum": 445, "type": "quantitative", "axis": null}
          }
        },
        {
          "mark": {"type": "text", "text": "Neutral", "font": "Liberation Sans", "fontSize": 96, "fontWeight": "bold", "color": "#767171", "align": "center", "baseline": "alphabetic"},
          "encoding": {
            "x": {"datum": 0.501, "type": "quantitative", "axis": null},
            "y": {"datum": 541, "type": "quantitative", "axis": null}
          }
        }
      ]
    }
  ],
  "config": {
    "font": "Liberation Sans",
    "view": {"stroke": null},
    "legend": {"labelFont": "Liberation Sans", "titleFont": "Liberation Sans", "labelFontWeight": "bold", "titleFontWeight": "bold", "labelColor": "#000000", "titleColor": "#000000"},
    "text": {"font": "Liberation Sans"}
  }
}
